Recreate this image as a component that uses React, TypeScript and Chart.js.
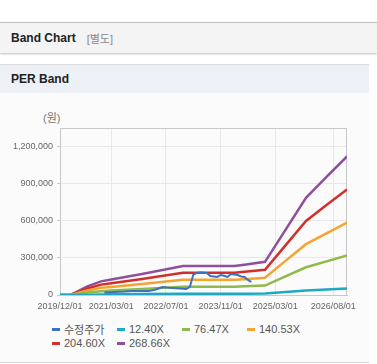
import React, { useEffect, useRef } from "react";
import { Chart, registerables } from "chart.js";
Chart.register(...registerables);

// ---- data ----
const bandDates = [
  "2019/12/01", "2020/03/01", "2020/08/01", "2020/12/01", "2021/03/01", "2021/12/01", "2022/12/01",
  "2024/03/01", "2024/06/01", "2024/12/01", "2025/06/01", "2025/12/01", "2026/06/01", "2026/12/01",
];
const band1240 = [0, 0, 3000, 5000, 6000, 8000, 11000, 11000, 11000, 12000, 24000, 36000, 44000, 52000];
const band7647 = [0, 0, 20000, 31000, 36000, 48000, 67000, 67000, 70000, 76000, 150000, 224000, 272000, 319000];
const band14053 = [0, 0, 37000, 58000, 65000, 89000, 123000, 123000, 128000, 140000, 276000, 411000, 499000, 586000];
const band20460 = [0, 0, 53000, 84000, 95000, 129000, 179000, 179000, 187000, 204000, 401000, 599000, 727000, 853000];
const band26866 = [0, 0, 70000, 110000, 125000, 170000, 235000, 235000, 245000, 268000, 527000, 786000, 955000, 1120000];

const priceDates = [
  "2021/01/01", "2021/04/01", "2021/07/01", "2021/09/01", "2021/12/01", "2022/02/01", "2022/04/01",
  "2022/06/01", "2022/08/01", "2022/10/01", "2022/12/01", "2023/01/01", "2023/02/01", "2023/03/01",
  "2023/04/01", "2023/05/01", "2023/07/01", "2023/08/01", "2023/09/01", "2023/10/01", "2023/11/01",
  "2023/12/01", "2024/01/01", "2024/02/01", "2024/03/01", "2024/04/01", "2024/05/01", "2024/06/01",
  "2024/07/01", "2024/08/01",
];
const priceValues = [
  20000, 25000, 28000, 32000, 33000, 32000, 45000, 65000, 58000, 55000, 50000, 48000, 65000, 162000,
  178000, 182000, 178000, 154000, 150000, 146000, 162000, 155000, 146000, 170000, 165000, 162000,
  150000, 146000, 122000, 105000,
];

const xTickLabels = ["2019/12/01", "2021/03/01", "2022/07/01", "2023/11/01", "2025/03/01", "2026/08/01"];
const xStart = "2019/12/01";
const xEnd = "2026/12/01";
const yTicks = [0, 300000, 600000, 900000, 1200000];
const yMax = 1350000;

const seriesNames = ["수정주가", "12.40X", "76.47X", "140.53X", "204.60X", "268.66X"];
const seriesColors = ["#3b73c0", "#1fa8c2", "#8dba4a", "#f4a431", "#d0302c", "#8f4f9f"];

const FONT = "'Liberation Sans', Arial, 'Noto Sans CJK KR', sans-serif";

const monthIndex = (s: string) => {
  const [y, m] = s.split("/").map(Number);
  return (y - 2019) * 12 + m - 12;
};
const toPoints = (dates: string[], vals: number[]) =>
  dates.map((d, i) => ({ x: monthIndex(d), y: vals[i] }));

const boxPlugin = {
  id: "boxBorder",
  beforeDatasetsDraw(chart: any) {
    const { ctx, chartArea: a } = chart;
    ctx.save();
    ctx.strokeStyle = "#c8c8c8";
    ctx.lineWidth = 1;
    ctx.strokeRect(Math.round(a.left) + 0.5, Math.round(a.top) + 0.5, Math.round(a.right - a.left) - 1, Math.round(a.bottom - a.top));
    ctx.restore();
  },
};

function BandChart() {
  const ref = useRef<HTMLCanvasElement>(null);
  useEffect(() => {
    if (!ref.current) return;
    const bandSets = [band1240, band7647, band14053, band20460, band26866];
    const datasets: any[] = [
      {
        label: seriesNames[0],
        data: toPoints(priceDates, priceValues),
        borderColor: seriesColors[0],
        borderWidth: 2,
      },
      ...bandSets.map((b, i) => ({
        label: seriesNames[i + 1],
        data: toPoints(bandDates, b),
        borderColor: seriesColors[i + 1],
        borderWidth: 2.5,
      })),
    ];
    const chart = new Chart(ref.current, {
      type: "line",
      data: { datasets },
      plugins: [boxPlugin],
      options: {
        animation: false,
        responsive: false,
        maintainAspectRatio: false,
        layout: { padding: { left: 0, right: 22, top: 35, bottom: 0 } },
        plugins: { legend: { display: false }, tooltip: { enabled: false } },
        elements: { point: { radius: 0 }, line: { tension: 0 } },
        scales: {
          x: {
            type: "linear",
            min: monthIndex(xStart),
            max: monthIndex(xEnd),
            afterBuildTicks: (s: any) => {
              s.ticks = xTickLabels.map((l) => ({ value: monthIndex(l) }));
            },
            afterFit: (s: any) => {
              s.height = 20;
            },
            ticks: {
              autoSkip: false,
              maxRotation: 0,
              padding: 6,
              color: "#666",
              font: { size: 9, family: FONT },
              callback: (_v: any, i: number) => xTickLabels[i],
            },
            grid: { color: "#e8e8e8", tickLength: 0 },
            border: { color: "#c8c8c8" },
          },
          y: {
            min: 0,
            max: yMax,
            afterBuildTicks: (s: any) => {
              s.ticks = yTicks.map((v) => ({ value: v }));
            },
            afterFit: (s: any) => {
              s.width = 60;
            },
            ticks: {
              padding: 4,
              color: "#666",
              font: { size: 9, family: FONT },
              callback: (v: any) => Number(v).toLocaleString("en-US"),
            },
            grid: { color: "#e8e8e8", tickLength: 3, tickColor: "#c8c8c8" },
            border: { color: "#c8c8c8" },
          },
        },
      } as any,
    });
    return () => chart.destroy();
  }, []);
  return (
    <canvas
      ref={ref}
      width={369}
      height={222}
      style={{ position: "absolute", left: 0, top: 93, width: 369, height: 222 }}
    />
  );
}

export default function App() {
  return (
    <div
      style={{
        position: "absolute",
        left: 0,
        top: 0,
        width: 377,
        height: 364,
        background: "#fff",
        fontFamily: FONT,
        overflow: "hidden",
      }}
    >
      <div
        style={{
          position: "absolute",
          left: 0,
          top: 22,
          width: 377,
          height: 30,
          borderTop: "1px solid #bdbdbd",
          background: "#f4f4f4",
          boxShadow: "0 1px 2px rgba(0,0,0,0.25)",
          display: "flex",
          alignItems: "center",
        }}
      >
        <span style={{ marginLeft: 11, fontWeight: "bold", fontSize: 12, color: "#222" }}>Band Chart</span>
        <span style={{ marginLeft: 11, fontSize: 11, color: "#8a8a8a" }}>[별도]</span>
      </div>
      <div
        style={{
          position: "absolute",
          left: 0,
          top: 64,
          width: 369,
          height: 28,
          borderTop: "1px solid #dcdcdc",
          background: "#edf1f6",
          display: "flex",
          alignItems: "center",
        }}
      >
        <span style={{ marginLeft: 11, fontWeight: "bold", fontSize: 12, color: "#222" }}>PER Band</span>
      </div>
      <div
        style={{
          position: "absolute",
          left: 0,
          top: 93,
          width: 369,
          height: 269,
          background: "#fbfbfb",
          borderBottom: "1px solid #d8d8d8",
        }}
      />
      <div
        style={{
          position: "absolute",
          left: 43,
          top: 111,
          fontSize: 11,
          lineHeight: "14px",
          color: "#777",
        }}
      >
        (원)
      </div>
      <BandChart />
      <div
        style={{
          position: "absolute",
          left: 52,
          top: 322,
          width: 270,
          display: "flex",
          flexWrap: "wrap",
        }}
      >
        {seriesNames.map((n, i) => (
          <div
            key={n}
            style={{ width: 65, height: 14, display: "flex", alignItems: "center", fontSize: 11, color: "#555" }}
          >
            <span style={{ width: 8, height: 3, background: seriesColors[i], marginRight: 4, flex: "none" }} />
            <span style={{ whiteSpace: "nowrap" }}>{n}</span>
          </div>
        ))}
      </div>
    </div>
  );
}
